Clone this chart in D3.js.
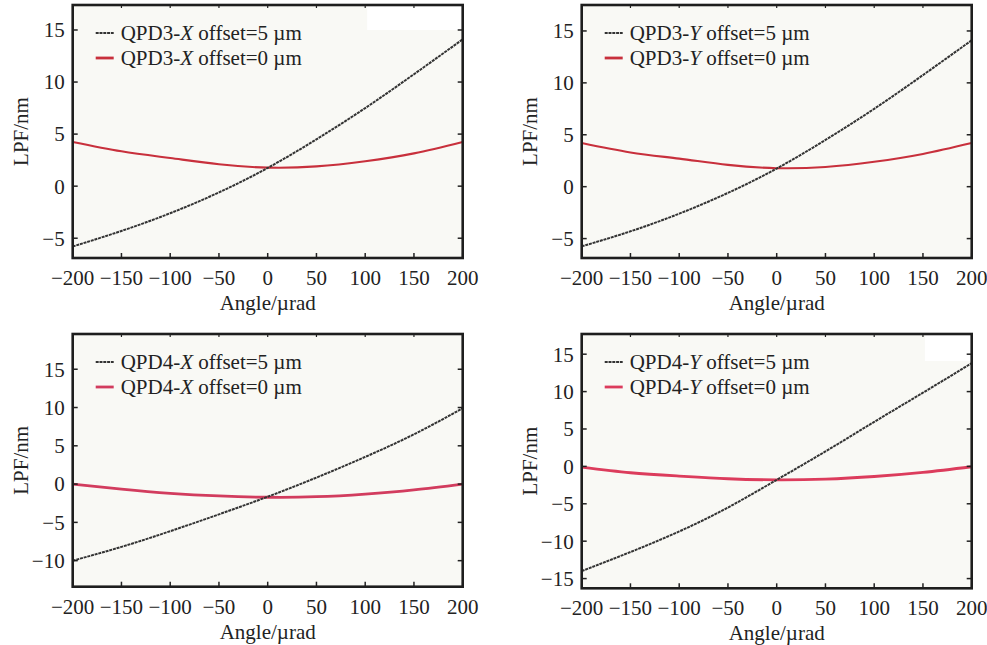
<!DOCTYPE html>
<meta charset="utf-8">
<head>
<script src="https://d3js.org/d3.v7.min.js"></script>
<style>
body { margin: 0; background: #fff; }
text { font-family: "Liberation Serif", "Times New Roman", serif; fill: #222; }
</style>
</head>
<body>
<div id="chart"></div>
<script>
// angle samples (µrad)
var angles = [-200, -150, -100, -50, 0, 50, 100, 150, 200];

// LPF values (nm)
var qpd3xOffset5 = [-5.8, -4.3, -2.6, -0.6, 1.75, 4.5, 7.5, 10.75, 14.1];
var qpd3xOffset0 = [4.25, 3.35, 2.7, 2.1, 1.78, 1.9, 2.4, 3.15, 4.25];
var qpd3yOffset5 = [-5.75, -4.3, -2.6, -0.6, 1.75, 4.5, 7.5, 10.75, 14.1];
var qpd3yOffset0 = [4.2, 3.3, 2.7, 2.1, 1.78, 1.9, 2.4, 3.15, 4.2];
var qpd4xOffset5 = [-10, -8.2, -6.15, -3.95, -1.65, 0.85, 3.55, 6.5, 9.9];
var qpd4xOffset0 = [0, -0.65, -1.2, -1.55, -1.72, -1.65, -1.3, -0.75, 0];
var qpd4yOffset5 = [-14, -11.45, -8.7, -5.5, -1.8, 2.0, 5.95, 9.85, 13.8];
var qpd4yOffset0 = [-0.1, -0.85, -1.3, -1.65, -1.8, -1.7, -1.35, -0.8, -0.05];

var xTicks = [-200, -150, -100, -50, 0, 50, 100, 150, 200];

var panels = [
  {left: 72.7, top: 5, w: 390, h: 253, yDomain: [-6.9, 17.4], yTicks: [-5, 0, 5, 10, 15],
   name: "QPD3-", axis: "X", s5: qpd3xOffset5, s0: qpd3xOffset0, red: "#c8303c", rw: 2.1, patch: [102, 200, 15.0]},
  {left: 581.7, top: 5, w: 390, h: 253, yDomain: [-6.87, 17.5], yTicks: [-5, 0, 5, 10, 15],
   name: "QPD3-", axis: "Y", s5: qpd3yOffset5, s0: qpd3yOffset0, red: "#c8303c", rw: 2.1, patch: null},
  {left: 72.7, top: 334, w: 390, h: 252.7, yDomain: [-13.4, 19.6], yTicks: [-10, -5, 0, 5, 10, 15],
   name: "QPD4-", axis: "X", s5: qpd4xOffset5, s0: qpd4xOffset0, red: "#d23c5e", rw: 2.8, patch: null},
  {left: 581.7, top: 334, w: 390, h: 254.3, yDomain: [-16.3, 17.7], yTicks: [-15, -10, -5, 0, 5, 10, 15],
   name: "QPD4-", axis: "Y", s5: qpd4yOffset5, s0: qpd4yOffset0, red: "#dc3c5c", rw: 2.8, patch: [152, 200, 14.1]}
];

var svg = d3.select("#chart").append("svg")
  .attr("width", 987)
  .attr("height", 645);

panels.forEach(function(p) {
  var g = svg.append("g")
    .attr("transform", "translate(" + p.left + "," + p.top + ")");

  var x = d3.scaleLinear().domain([-200, 200]).range([0, p.w]);
  var y = d3.scaleLinear().domain(p.yDomain).range([p.h, 0]);

  // plot background
  g.append("rect")
    .attr("width", p.w).attr("height", p.h)
    .attr("fill", "#f9f9f5");

  // white patch seen in the scan
  if (p.patch) {
    g.append("rect")
      .attr("x", x(p.patch[0])).attr("y", 0)
      .attr("width", x(p.patch[1]) - x(p.patch[0]))
      .attr("height", y(p.patch[2]))
      .attr("fill", "#ffffff");
  }

  var line = d3.line()
    .x(function(d, i) { return x(angles[i]); })
    .y(function(d) { return y(d); })
    .curve(d3.curveNatural);

  g.append("path")
    .attr("d", line(p.s0))
    .attr("fill", "none")
    .attr("stroke", p.red)
    .attr("stroke-width", p.rw);

  g.append("path")
    .attr("d", line(p.s5))
    .attr("fill", "none")
    .attr("stroke", "#333")
    .attr("stroke-width", 2)
    .attr("stroke-dasharray", "3,0.8");

  // inward ticks on all four sides
  var tl = 5;
  g.selectAll(".xb").data(xTicks).enter().append("line")
    .attr("x1", function(d) { return x(d); }).attr("x2", function(d) { return x(d); })
    .attr("y1", p.h).attr("y2", p.h - tl)
    .attr("stroke", "#222").attr("stroke-width", 1.5);
  g.selectAll(".xt").data(xTicks).enter().append("line")
    .attr("x1", function(d) { return x(d); }).attr("x2", function(d) { return x(d); })
    .attr("y1", 0).attr("y2", 3)
    .attr("stroke", "#222").attr("stroke-width", 1.2);
  g.selectAll(".yl").data(p.yTicks).enter().append("line")
    .attr("x1", 0).attr("x2", tl)
    .attr("y1", function(d) { return y(d); }).attr("y2", function(d) { return y(d); })
    .attr("stroke", "#222").attr("stroke-width", 1.5);
  g.selectAll(".yr").data(p.yTicks).enter().append("line")
    .attr("x1", p.w).attr("x2", p.w - tl)
    .attr("y1", function(d) { return y(d); }).attr("y2", function(d) { return y(d); })
    .attr("stroke", "#222").attr("stroke-width", 1.5);

  // frame
  g.append("rect")
    .attr("width", p.w).attr("height", p.h)
    .attr("fill", "none")
    .attr("stroke", "#1e1e1e")
    .attr("stroke-width", 2.6);

  // tick labels
  g.selectAll(".xl").data(xTicks).enter().append("text")
    .attr("x", function(d) { return x(d); })
    .attr("y", p.h + 27)
    .attr("text-anchor", "middle")
    .style("font-size", "21px")
    .text(function(d) { return d < 0 ? "\u2212" + Math.abs(d) : d; });
  g.selectAll(".ylab").data(p.yTicks).enter().append("text")
    .attr("x", -8)
    .attr("y", function(d) { return y(d); })
    .attr("dy", "0.35em")
    .attr("text-anchor", "end")
    .style("font-size", "21px")
    .text(function(d) { return d < 0 ? "\u2212" + Math.abs(d) : d; });

  // axis titles
  g.append("text")
    .attr("x", p.w / 2).attr("y", p.h + 52)
    .attr("text-anchor", "middle")
    .style("font-size", "21px")
    .text("Angle/\u00b5rad");
  g.append("text")
    .attr("transform", "translate(-45," + (p.h / 2) + ") rotate(-90)")
    .attr("text-anchor", "middle")
    .style("font-size", "21px")
    .text("LPF/nm");

  // legend
  var entries = [
    {label: "offset=5 \u00b5m", stroke: "#333", dash: "3,0.8", sw: 2},
    {label: "offset=0 \u00b5m", stroke: p.red, dash: null, sw: 2.8}
  ];
  var leg = g.selectAll(".leg").data(entries).enter().append("g")
    .attr("transform", function(d, i) { return "translate(23," + (28 + i * 25) + ")"; });
  leg.append("line")
    .attr("x1", 0).attr("x2", 18)
    .attr("stroke", function(d) { return d.stroke; })
    .attr("stroke-width", function(d) { return d.sw; })
    .attr("stroke-dasharray", function(d) { return d.dash; });
  var t = leg.append("text")
    .attr("x", 25).attr("dy", "0.35em")
    .style("font-size", "21px");
  t.append("tspan").text(p.name);
  t.append("tspan").style("font-style", "italic").text(p.axis);
  t.append("tspan").text(function(d) { return " " + d.label; });
});
</script>
</body>
</html>
